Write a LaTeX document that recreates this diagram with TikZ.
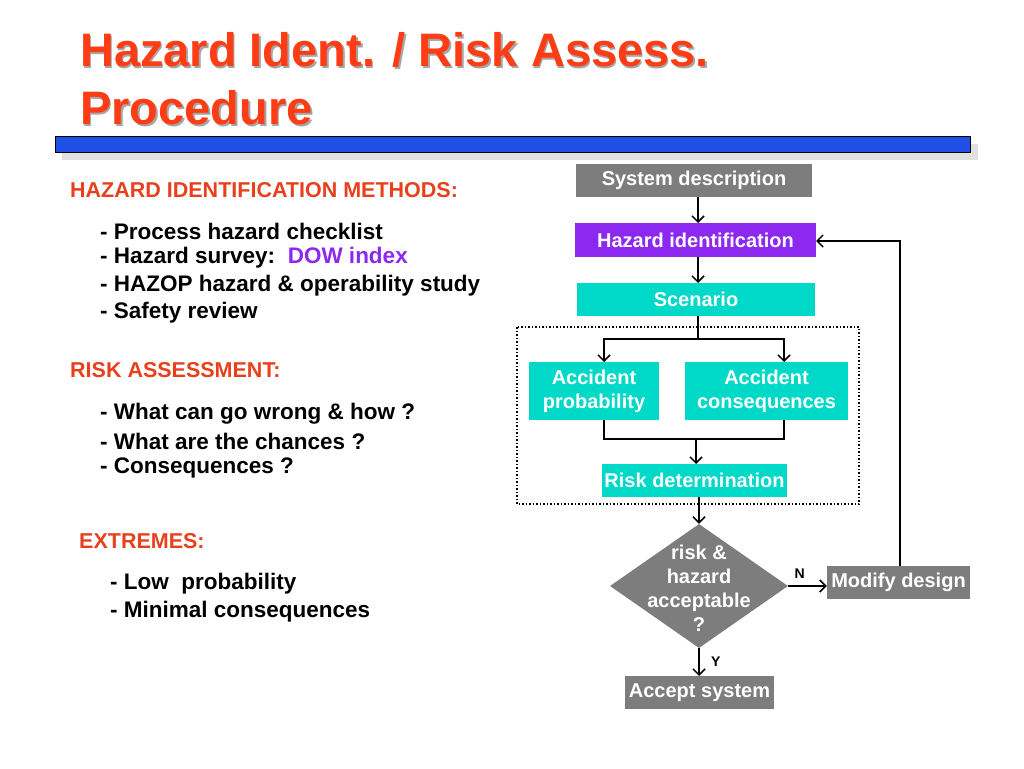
\documentclass[tikz,border=0pt]{standalone}
\usepackage{fontspec}
\setmainfont{Liberation Sans}
\usetikzlibrary{shapes.geometric,arrows.meta}
\definecolor{ttl}{RGB}{255,60,20}
\definecolor{hd}{RGB}{232,64,28}
\definecolor{cy}{RGB}{0,216,200}
\definecolor{pu}{RGB}{140,40,240}
\definecolor{gr}{RGB}{125,125,125}
\definecolor{bar}{RGB}{30,80,230}
\begin{document}
\begin{tikzpicture}[x=1pt,y=-1pt,
  lst/.style={anchor=west,font=\fontsize{22.5}{26}\bfseries\selectfont,inner sep=0pt},
  hdr/.style={anchor=west,font=\fontsize{21.5}{25}\bfseries\selectfont,text=hd,inner sep=0pt},
  box/.style={rectangle,text=white,font=\fontsize{20}{23}\bfseries\selectfont,inner sep=0pt,align=center},
  arr/.style={draw,line width=1.5pt,-{Straight Barb[length=6pt,width=12pt,line width=1.5pt]}},
  ln/.style={draw,line width=1.5pt}]
\useasboundingbox (0,0) rectangle (1024,768);
% title
\foreach \dx/\c in {1.5/black!35,0/ttl}{
 \node[anchor=west,inner sep=0pt,text=\c,font=\fontsize{47}{52}\bfseries\selectfont] at (80+\dx,50+\dx) {Hazard Ident. / Risk Assess.};
 \node[anchor=west,inner sep=0pt,text=\c,font=\fontsize{47}{52}\bfseries\selectfont] at (80+\dx,108+\dx) {Procedure};}
\fill[black!12] (62,144) rectangle (978,160);
\draw[fill=bar,line width=0.8pt] (55,136) rectangle (970,152);
% left texts
\node[hdr] (h1) at (70,190) {HAZARD IDENTIFICATION METHODS:};
\node[lst] (l1) at (100,231) {- Process hazard checklist};
\node[lst] (l2) at (100,258) {- Hazard survey:\ \ \textcolor{pu}{DOW index}};
\node[lst] (l3) at (100,286) {- HAZOP hazard \& operability study};
\node[lst] (l4) at (100,313) {- Safety review};
\node[hdr] (h2) at (70,370) {RISK ASSESSMENT:};
\node[lst] (r1) at (100,414) {- What can go wrong \& how ?};
\node[lst] (r2) at (100,441) {- What are the chances ?};
\node[lst] (r3) at (100,468) {- Consequences ?};
\node[hdr] (h3) at (79,541) {EXTREMES:};
\node[lst] (e1) at (110,584) {- Low\ \ probability};
\node[lst] (e2) at (110,612) {- Minimal consequences};
% flowchart
\draw[dotted,line width=1.5pt] (517,327) rectangle (859,504);
\node[box,fill=gr,minimum width=236pt,minimum height=33pt] (sd) at (694,180.5) {System description};
\node[box,fill=pu,minimum width=241pt,minimum height=34pt] (hi) at (695.5,240) {Hazard identification};
\node[box,fill=cy,minimum width=238pt,minimum height=33pt] (sc) at (696,299.5) {Scenario};
\node[box,fill=cy,minimum width=130pt,minimum height=58pt] (ap) at (594,391) {Accident\\[1pt]probability};
\node[box,fill=cy,minimum width=163pt,minimum height=58pt] (ac) at (766.5,391) {Accident\\[1pt]consequences};
\node[box,fill=cy,minimum width=185pt,minimum height=33pt] (rd) at (694.5,480.5) {Risk determination};
\node[box,fill=gr,diamond,minimum width=178pt,minimum height=124pt,inner sep=0pt,aspect=1.43] (dm) at (699,586) {};
\node[box,align=center,font=\fontsize{20}{24}\bfseries\selectfont] (dt) at (699,588) {risk \&\\hazard\\acceptable\\?};
\node[box,fill=gr,minimum width=143pt,minimum height=33pt] (md) at (898.5,582.5) {Modify design};
\node[box,fill=gr,minimum width=149pt,minimum height=33pt] (as) at (699.5,692.5) {Accept system};
\draw[arr] (698,197) -- (698,223);
\draw[arr] (698,257) -- (698,283);
\draw[ln] (698,316) -- (698,339);
\draw[ln] (604,339) -- (784,339);
\draw[arr] (604,338) -- (604,362);
\draw[arr] (784,338) -- (784,362);
\draw[ln] (604,420) -- (604,439) -- (784,439) -- (784,420);
\draw[arr] (696,439) -- (696,464);
\draw[arr] (699,497) -- (dm.north);
\draw[arr] (dm.east) -- (md.west |- dm.east) node[pos=0.3,above=3pt,font=\fontsize{14}{16}\bfseries\selectfont,text=black] (nl) {N};
\draw[arr] (dm.south) -- (699,676) node[pos=0.5,right=8pt,font=\fontsize{14}{16}\bfseries\selectfont,text=black] (yl) {Y};
\draw[arr] (900,566) -- (900,241) -- (816,241);
\end{tikzpicture}
\end{document}
